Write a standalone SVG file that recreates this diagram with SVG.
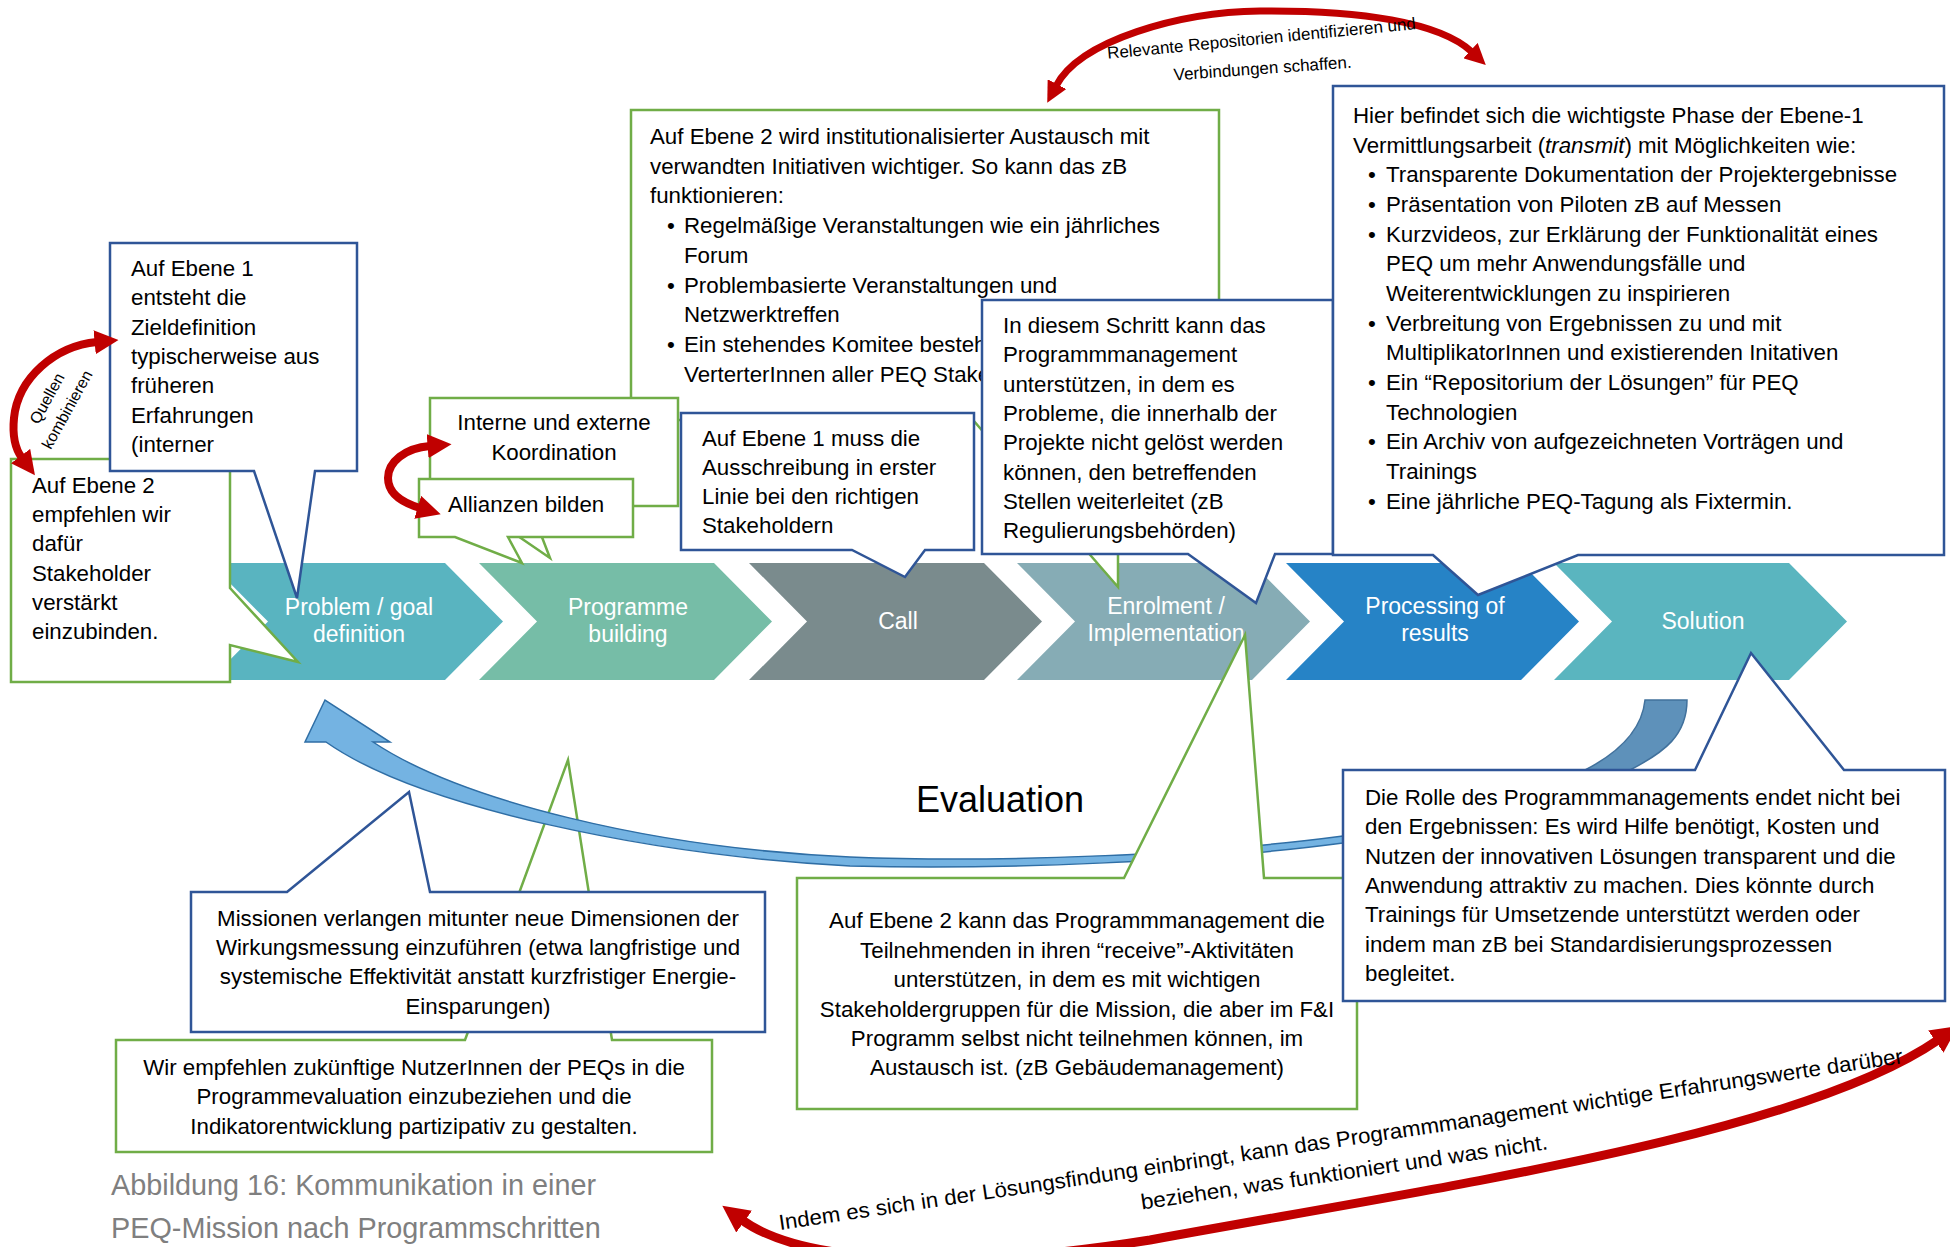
<svg xmlns="http://www.w3.org/2000/svg" width="1950" height="1247" viewBox="0 0 1950 1247">
<defs>
<style>
.bx{fill:#fff;stroke-width:2.5;stroke-linejoin:miter}
.bl{stroke:#2F5597}
.gr{stroke:#70AD47}
text{font-family:'Liberation Sans',Arial,sans-serif}
.t{font-size:22.3px;fill:#000}
.m{text-anchor:middle}
.cv{font-size:23px;fill:#fff;text-anchor:middle}
.ra{fill:none;stroke:#C00000;marker-start:url(#ah);marker-end:url(#ah)}
.rl{font-size:17px;fill:#000}
</style>
<marker id="ah" viewBox="0 0 10 10" refX="1" refY="5" markerWidth="3" markerHeight="3" orient="auto-start-reverse"><path d="M0,0 L10,5 L0,10 Z" fill="#C00000"/></marker>
</defs>
<rect width="1950" height="1247" fill="#fff"/>

<g id="chevrons">
<g id="step-problem"><polygon points="210,563 445,563 503,621.5 445,680 210,680 268,621.5" fill="#59B4C0"/><text class="cv" x="359" y="615">Problem / goal</text><text class="cv" x="359" y="642">definition</text></g>
<g id="step-programme"><polygon points="479,563 714,563 772,621.5 714,680 479,680 537,621.5" fill="#76BDA7"/><text class="cv" x="628" y="615">Programme</text><text class="cv" x="628" y="642">building</text></g>
<g id="step-call"><polygon points="749,563 984,563 1042,621.5 984,680 749,680 807,621.5" fill="#7A8B8D"/><text class="cv" x="898" y="629">Call</text></g>
<g id="step-enrolment"><polygon points="1017,563 1252,563 1310,621.5 1252,680 1017,680 1075,621.5" fill="#86ACB5"/><text class="cv" x="1166" y="614">Enrolment /</text><text class="cv" x="1166" y="641">Implementation</text></g>
<g id="step-processing"><polygon points="1286,563 1521,563 1579,621.5 1521,680 1286,680 1344,621.5" fill="#2683C6"/><text class="cv" x="1435" y="614">Processing of</text><text class="cv" x="1435" y="641">results</text></g>
<g id="step-solution"><polygon points="1554,563 1789,563 1847,621.5 1789,680 1554,680 1612,621.5" fill="#5AB5BF"/><text class="cv" x="1703" y="629">Solution</text></g>
</g>

<g id="box-ebene2-austausch">
<path class="bx gr" d="M631,110 H1219 V420 H1118 V587 L973,420 H631 Z"/>
<text class="t" x="650" y="144">Auf Ebene 2 wird institutionalisierter Austausch mit</text>
<text class="t" x="650" y="174">verwandten Initiativen wichtiger. So kann das zB</text>
<text class="t" x="650" y="203">funktionieren:</text>
<text class="t"><tspan x="667" y="233">•</tspan><tspan x="684" y="233">Regelmäßige Veranstaltungen wie ein jährliches</tspan></text>
<text class="t" x="684" y="263">Forum</text>
<text class="t"><tspan x="667" y="293">•</tspan><tspan x="684" y="293">Problembasierte Veranstaltungen und</tspan></text>
<text class="t" x="684" y="322">Netzwerktreffen</text>
<text class="t"><tspan x="667" y="352">•</tspan><tspan x="684" y="352">Ein stehendes Komitee besteh</tspan></text>
<text class="t" x="684" y="382">VerterterInnen aller PEQ Stake</text>
</g>

<g id="box-koordination">
<path class="bx gr" d="M430,398 H678 V506 H530 L550,558 L474,506 H430 Z"/>
<text class="t m" x="554" y="430">Interne und externe</text>
<text class="t m" x="554" y="460">Koordination</text>
</g>

<g id="box-allianzen">
<path class="bx gr" d="M419,479 H633 V537 H508 L522,563 L455,537 H419 Z"/>
<text class="t" x="448" y="512">Allianzen bilden</text>
</g>

<g id="box-ausschreibung">
<path class="bx bl" d="M681,413 H974 V550 H925 L905,577 L852,550 H681 Z"/>
<text class="t" x="702" y="446">Auf Ebene 1 muss die</text>
<text class="t" x="702" y="475">Ausschreibung in erster</text>
<text class="t" x="702" y="504">Linie bei den richtigen</text>
<text class="t" x="702" y="533">Stakeholdern</text>
</g>

<g id="box-schritt">
<path class="bx bl" d="M982,300 H1333 V554 H1275 L1256,603 L1188,554 H982 Z"/>
<text class="t" x="1003" y="333">In diesem Schritt kann das</text>
<text class="t" x="1003" y="362">Programmmanagement</text>
<text class="t" x="1003" y="392">unterstützen, in dem es</text>
<text class="t" x="1003" y="421">Probleme, die innerhalb der</text>
<text class="t" x="1003" y="450">Projekte nicht gelöst werden</text>
<text class="t" x="1003" y="480">können, den betreffenden</text>
<text class="t" x="1003" y="509">Stellen weiterleitet (zB</text>
<text class="t" x="1003" y="538">Regulierungsbehörden)</text>
</g>

<g id="box-vermittlung">
<path class="bx bl" d="M1333,86 H1944 V555 H1578 L1478,595 L1433,555 H1333 Z"/>
<text class="t" x="1353" y="123">Hier befindet sich die wichtigste Phase der Ebene-1</text>
<text class="t" x="1353" y="153">Vermittlungsarbeit (<tspan font-style="italic">transmit</tspan>) mit Möglichkeiten wie:</text>
<text class="t"><tspan x="1368" y="182">•</tspan><tspan x="1386" y="182">Transparente Dokumentation der Projektergebnisse</tspan></text>
<text class="t"><tspan x="1368" y="212">•</tspan><tspan x="1386" y="212">Präsentation von Piloten zB auf Messen</tspan></text>
<text class="t"><tspan x="1368" y="242">•</tspan><tspan x="1386" y="242">Kurzvideos, zur Erklärung der Funktionalität eines</tspan></text>
<text class="t" x="1386" y="271">PEQ um mehr Anwendungsfälle und</text>
<text class="t" x="1386" y="301">Weiterentwicklungen zu inspirieren</text>
<text class="t"><tspan x="1368" y="331">•</tspan><tspan x="1386" y="331">Verbreitung von Ergebnissen zu und mit</tspan></text>
<text class="t" x="1386" y="360">MultiplikatorInnen und existierenden Initativen</text>
<text class="t"><tspan x="1368" y="390">•</tspan><tspan x="1386" y="390">Ein “Repositorium der Lösungen” für PEQ</tspan></text>
<text class="t" x="1386" y="420">Technologien</text>
<text class="t"><tspan x="1368" y="449">•</tspan><tspan x="1386" y="449">Ein Archiv von aufgezeichneten Vorträgen und</tspan></text>
<text class="t" x="1386" y="479">Trainings</text>
<text class="t"><tspan x="1368" y="509">•</tspan><tspan x="1386" y="509">Eine jährliche PEQ-Tagung als Fixtermin.</tspan></text>
</g>

<g id="box-ebene2-stakeholder">
<path class="bx gr" d="M11,459 H230 V588 L298,662 L230,645 V682 H11 Z"/>
<text class="t" x="32" y="493">Auf Ebene 2</text>
<text class="t" x="32" y="522">empfehlen wir</text>
<text class="t" x="32" y="551">dafür</text>
<text class="t" x="32" y="581">Stakeholder</text>
<text class="t" x="32" y="610">verstärkt</text>
<text class="t" x="32" y="639">einzubinden.</text>
</g>

<g id="box-ebene1-ziel">
<path class="bx bl" d="M110,243 H357 V471 H315 L297,598 L254,471 H110 Z"/>
<text class="t" x="131" y="276">Auf Ebene 1</text>
<text class="t" x="131" y="305">entsteht die</text>
<text class="t" x="131" y="335">Zieldefinition</text>
<text class="t" x="131" y="364">typischerweise aus</text>
<text class="t" x="131" y="393">früheren</text>
<text class="t" x="131" y="423">Erfahrungen</text>
<text class="t" x="131" y="452">(interner</text>
</g>

<g id="box-nutzer">
<path class="bx gr" d="M116,1040 H465 L568,760 L612,1040 H712 V1152 H116 Z"/>
<text class="t m" x="414" y="1075">Wir empfehlen zukünftige NutzerInnen der PEQs in die</text>
<text class="t m" x="414" y="1104">Programmevaluation einzubeziehen und die</text>
<text class="t m" x="414" y="1134">Indikatorentwicklung partizipativ zu gestalten.</text>
</g>

<g id="connectors">
<path id="evaluation-arrow" d="M1343,836 C1200,855 1000,863 850,857 C650,848 460,800 373,742 L390,742 L325,700 L305,742 L326,742 C420,808 650,855 850,866 C1000,870 1200,862 1343,843 Z" fill="#74B3E2" stroke="#2F6EA5" stroke-width="1.5"/>
<path id="evaluation-arrow-start" d="M1645,700 L1687,700 C1687,735 1665,752 1630,770 L1585,770 C1620,752 1642,730 1645,700 Z" fill="#5E91BA" stroke="#41719C" stroke-width="1.5"/>
<path class="ra" stroke-width="8" d="M97,342 C55,346 18,378 14,418 C12,438 16,450 22,458"/>
<path class="ra" stroke-width="8" d="M430,446 C405,448 388,462 388,478 C388,492 400,502 420,508"/>
<path class="ra" stroke-width="7" d="M1056,86 C1080,40 1180,12 1260,11 C1360,10 1440,22 1472,52"/>
<path class="ra" stroke-width="9" d="M742,1220 C800,1262 950,1272 1150,1240 C1450,1185 1800,1135 1938,1040"/>
</g>

<g id="labels">
<g transform="translate(57,404) rotate(-61)"><text class="m" font-size="16" x="0" y="-6">Quellen</text><text class="m" font-size="16" x="0" y="17">kombinieren</text></g>
<text class="rl m" transform="rotate(-5.5 1262 44)" x="1262" y="44">Relevante Repositorien identifizieren und</text>
<text class="rl m" transform="rotate(-4.1 1263 74)" x="1263" y="74">Verbindungen schaffen.</text>
<g transform="translate(780,1230) rotate(-8.45)"><text font-size="21.5" x="0" y="0" textLength="1136" lengthAdjust="spacingAndGlyphs">Indem es sich in der Lösungsfindung einbringt, kann das Programmmanagement wichtige Erfahrungswerte darüber</text><text font-size="21.5" x="361" y="33" textLength="411" lengthAdjust="spacingAndGlyphs">beziehen, was funktioniert und was nicht.</text></g>
<text x="1000" y="812" font-size="36" text-anchor="middle">Evaluation</text>
</g>

<g id="box-missionen">
<path class="bx bl" d="M191,892 H287 L409,792 L430,892 H765 V1032 H191 Z"/>
<text class="t m" x="478" y="926">Missionen verlangen mitunter neue Dimensionen der</text>
<text class="t m" x="478" y="955">Wirkungsmessung einzuführen (etwa langfristige und</text>
<text class="t m" x="478" y="984">systemische Effektivität anstatt kurzfristiger Energie-</text>
<text class="t m" x="478" y="1014">Einsparungen)</text>
</g>

<g id="box-receive">
<path class="bx gr" d="M797,878 H1124 L1245,635 L1264,878 H1357 V1109 H797 Z"/>
<text class="t m" x="1077" y="928">Auf Ebene 2 kann das Programmmanagement die</text>
<text class="t m" x="1077" y="958">Teilnehmenden in ihren “receive”-Aktivitäten</text>
<text class="t m" x="1077" y="987">unterstützen, in dem es mit wichtigen</text>
<text class="t m" x="1077" y="1017">Stakeholdergruppen für die Mission, die aber im F&amp;I</text>
<text class="t m" x="1077" y="1046">Programm selbst nicht teilnehmen können, im</text>
<text class="t m" x="1077" y="1075">Austausch ist. (zB Gebäudemanagement)</text>
</g>

<g id="box-rolle">
<path class="bx bl" d="M1343,770 H1695 L1751,653 L1844,770 H1945 V1001 H1343 Z"/>
<text class="t" x="1365" y="805">Die Rolle des Programmmanagements endet nicht bei</text>
<text class="t" x="1365" y="834">den Ergebnissen: Es wird Hilfe benötigt, Kosten und</text>
<text class="t" x="1365" y="864">Nutzen der innovativen Lösungen transparent und die</text>
<text class="t" x="1365" y="893">Anwendung attraktiv zu machen. Dies könnte durch</text>
<text class="t" x="1365" y="922">Trainings für Umsetzende unterstützt werden oder</text>
<text class="t" x="1365" y="952">indem man zB bei Standardisierungsprozessen</text>
<text class="t" x="1365" y="981">begleitet.</text>
</g>

<g id="caption">
<text x="111" y="1195" font-size="28.8" fill="#7F7F7F">Abbildung 16: Kommunikation in einer</text>
<text x="111" y="1238" font-size="28.8" fill="#7F7F7F">PEQ-Mission nach Programmschritten</text>
</g>
</svg>
